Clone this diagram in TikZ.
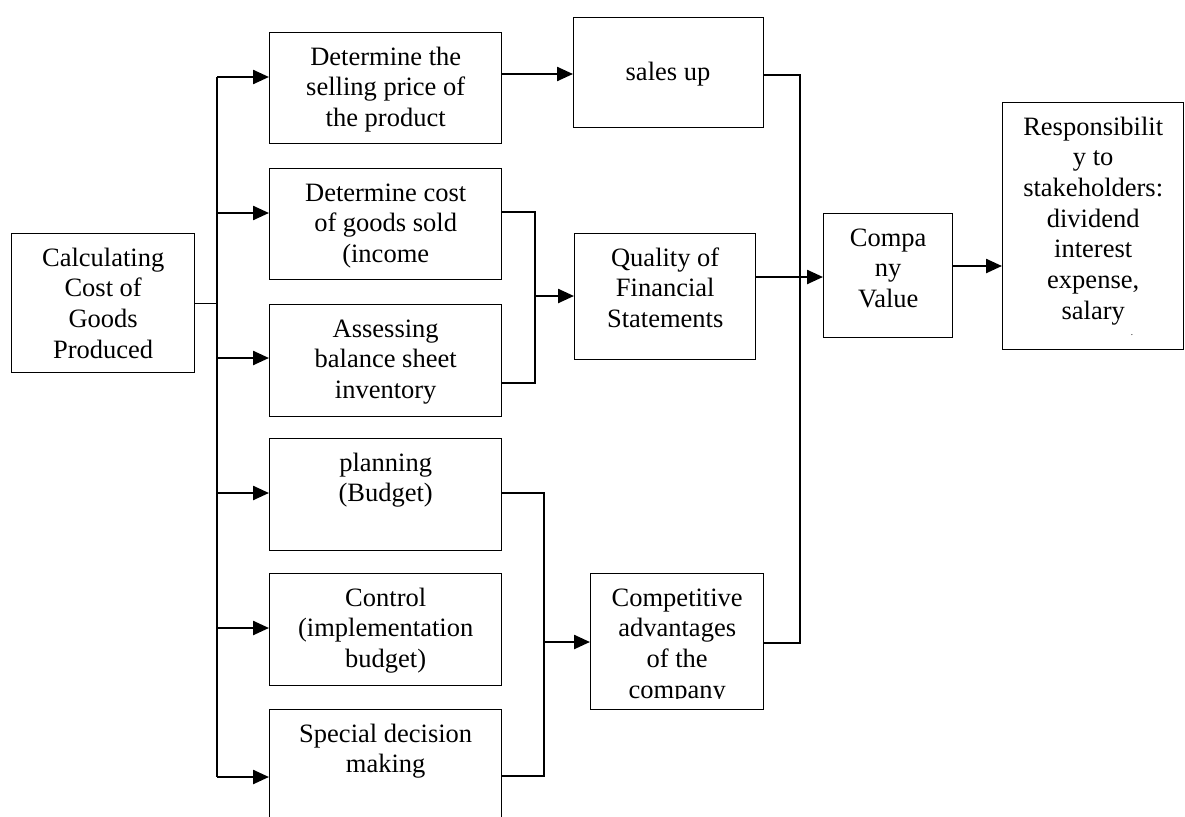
\documentclass[tikz,border=0pt]{standalone}
\usepackage{fontspec}
\setmainfont{Liberation Serif}
\usetikzlibrary{arrows.meta,calc}
\begin{document}
\begin{tikzpicture}[x=1pt,y=-1pt,
  box/.style={draw, line width=1.4pt, inner sep=0pt, anchor=north west},
  txt/.style={font=\fontsize{26.5}{30.7}\selectfont, align=center, inner sep=0pt, anchor=north},
  arr/.style={line width=2.4pt, -{Triangle[length=16pt,width=14pt]}},
  conn/.style={line width=1.4pt}]
\useasboundingbox (0,0) rectangle (1185,816);
\clip (0,0) rectangle (1185,816);
% boxes
\node[box, minimum width=183pt, minimum height=139pt] (cal) at (11,233) {};
\node[box, minimum width=232pt, minimum height=111pt] (b1) at (269,32) {};
\node[box, minimum width=232pt, minimum height=111pt] (b2) at (269,168) {};
\node[box, minimum width=232pt, minimum height=112pt] (b3) at (269,304) {};
\node[box, minimum width=232pt, minimum height=112pt] (b4) at (269,438) {};
\node[box, minimum width=232pt, minimum height=112pt] (b5) at (269,573) {};
\node[box, minimum width=232pt, minimum height=125pt] (b6) at (269,709) {};
\node[box, minimum width=190pt, minimum height=110pt] (sales) at (573,17) {};
\node[box, minimum width=181pt, minimum height=126pt] (qual) at (574,233) {};
\node[box, minimum width=129pt, minimum height=124pt] (comp) at (823,213) {};
\node[box, minimum width=181pt, minimum height=247pt] (resp) at (1002,102) {};
\node[box, minimum width=173pt, minimum height=136pt] (compet) at (590,573) {};
% texts
\node[txt] (tcal) at ($(cal.north)+(0,11.5)$) {\strut Calculating\\Cost of\\Goods\\Produced};
\node[txt] (tb1) at ($(b1.north)+(0,11.5)$) {\strut Determine the\\selling price of\\the product};
\node[txt] (tb2) at ($(b2.north)+(0,11.5)$) {\strut Determine cost\\of goods sold\\(income};
\node[txt] (tb3) at ($(b3.north)+(0,11.5)$) {\strut Assessing\\balance sheet\\inventory};
\node[txt] (tb4) at ($(b4.north)+(0,11.5)$) {\strut planning\\(Budget)};
\node[txt] (tb5) at ($(b5.north)+(0,11.5)$) {\strut Control\\(implementation\\budget)};
\node[txt] (tb6) at ($(b6.north)+(0,11.5)$) {\strut Special decision\\making};
\node[txt, anchor=base] (tsales) at (668,81) {sales up};
\node[txt] (tqual) at ($(qual.north)+(0,11.5)$) {\strut Quality of\\Financial\\Statements};
\node[txt] (tcomp) at ($(comp.north)+(0,11.5)$) {\strut Compa\\ny\\Value};
\node[txt] (tresp) at ($(resp.north)+(0,11.5)$) {\strut Responsibilit\\y to\\stakeholders:\\dividend\\interest\\expense,\\salary};
\node[font=\fontsize{9}{10}\selectfont, inner sep=0pt] (dot) at (1132,335) {.};
\begin{scope}
\clip (591,574) rectangle (762,698);
\node[txt] (tcompet) at ($(compet.north)+(0,11.5)$) {\strut Competitive\\advantages\\of the\\company};
\end{scope}
% coordinates
\coordinate (busx) at (217,0);
\coordinate (ya) at (0,77);
\coordinate (yb) at (0,213);
\coordinate (yc) at (0,358);
\coordinate (yd) at (0,493);
\coordinate (ye) at (0,628);
\coordinate (yf) at (0,777);
\coordinate (ys) at (0,74);
\coordinate (rbx) at (800,0);
\coordinate (ysu) at (0,75);
\coordinate (ycp) at (0,643);
\coordinate (yq) at (0,277);
\coordinate (yv) at (0,266);
\coordinate (qbx) at (535,0);
\coordinate (yq1) at (0,212);
\coordinate (yq2) at (0,383);
\coordinate (yqa) at (0,296);
\coordinate (cbx) at (544,0);
\coordinate (yc1) at (0,493);
\coordinate (yc2) at (0,776);
\coordinate (yca) at (0,642);
% left bus
\draw[conn] (cal.east) -- (cal.east -| busx);
\draw[conn] (busx |- ya) -- (busx |- yf);
\draw[arr] (busx |- ya) -- (ya -| b1.west);
\draw[arr] (busx |- yb) -- (yb -| b2.west);
\draw[arr] (busx |- yc) -- (yc -| b3.west);
\draw[arr] (busx |- yd) -- (yd -| b4.west);
\draw[arr] (busx |- ye) -- (ye -| b5.west);
\draw[arr] (busx |- yf) -- (yf -| b6.west);
% b1 -> sales
\draw[arr] (ys -| b1.east) -- (ys -| sales.west);
% b2,b3 -> quality
\draw[conn] (yq1 -| b2.east) -- (yq1 -| qbx) -- (yq2 -| qbx) -- (yq2 -| b3.east);
\draw[arr] (yqa -| qbx) -- (yqa -| qual.west);
% b4,b6 -> competitive
\draw[conn] (yc1 -| b4.east) -- (yc1 -| cbx) -- (yc2 -| cbx) -- (yc2 -| b6.east);
\draw[arr] (yca -| cbx) -- (yca -| compet.west);
% right bus
\draw[conn] (ysu -| sales.east) -- (ysu -| rbx) -- (ycp -| rbx) -- (ycp -| compet.east);
\draw[arr] (yq -| qual.east) -- (yq -| comp.west);
\draw[arr] (yv -| comp.east) -- (yv -| resp.west);
\end{tikzpicture}
\end{document}
